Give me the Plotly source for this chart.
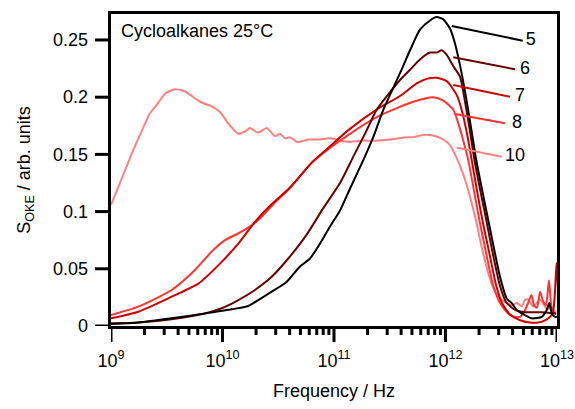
import plotly.graph_objects as go

# log10(frequency / Hz) and S_OKE values
logf_5 = [9.000, 9.245, 9.544, 9.843, 10.083, 10.231, 10.321, 10.441, 10.561, 10.605, 10.695, 10.785,
          10.874, 10.964, 11.054, 11.143, 11.263, 11.352, 11.442, 11.592, 11.682, 11.771, 11.861, 11.921,
          11.980, 12.040, 12.085, 12.130, 12.184, 12.238, 12.274, 12.318, 12.372, 12.426, 12.489, 12.549,
          12.594, 12.639, 12.684, 12.773, 12.863, 12.908, 12.931, 12.953, 12.982, 13.000]
s_5 = [0.0017, 0.003, 0.0067, 0.011, 0.0146, 0.0175, 0.0227, 0.030, 0.0373, 0.0417, 0.052, 0.059,
       0.072, 0.087, 0.101, 0.120, 0.145, 0.165, 0.189, 0.221, 0.241, 0.259, 0.267, 0.270,
       0.268, 0.260, 0.247, 0.228, 0.200, 0.168, 0.146, 0.124, 0.098, 0.072, 0.043, 0.024,
       0.020, 0.014, 0.011, 0.0067, 0.008, 0.014, 0.020, 0.011, 0.008, 0.008]

logf_6 = [9.000, 9.245, 9.544, 9.843, 9.993, 10.142, 10.291, 10.441, 10.590, 10.749, 10.904, 11.054,
          11.173, 11.293, 11.383, 11.592, 11.682, 11.771, 11.861, 11.921, 11.966, 12.011, 12.070, 12.130,
          12.175, 12.220, 12.258, 12.309, 12.363, 12.429, 12.489, 12.543, 12.623, 12.713, 12.848, 12.991]
s_6 = [0.0023, 0.003, 0.006, 0.011, 0.0155, 0.0227, 0.0315, 0.043, 0.059, 0.079, 0.103, 0.125,
       0.148, 0.171, 0.189, 0.215, 0.224, 0.233, 0.239, 0.239, 0.241, 0.237, 0.227, 0.218,
       0.196, 0.170, 0.146, 0.120, 0.094, 0.061, 0.035, 0.021, 0.014, 0.012, 0.012, 0.011]

logf_7 = [9.000, 9.245, 9.544, 9.783, 9.962, 10.142, 10.291, 10.435, 10.605, 10.803, 10.964, 11.126,
          11.395, 11.592, 11.742, 11.831, 11.921, 12.011, 12.100, 12.148, 12.193, 12.235, 12.283, 12.336,
          12.399, 12.453, 12.507, 12.578, 12.668, 12.758, 12.830, 12.892, 12.937, 12.964, 12.982, 12.996,
          13.010]
s_7 = [0.0067, 0.0125, 0.0256, 0.037, 0.053, 0.072, 0.091, 0.106, 0.121, 0.143, 0.157, 0.171,
       0.190, 0.201, 0.212, 0.216, 0.217, 0.214, 0.202, 0.188, 0.168, 0.145, 0.118, 0.090,
       0.061, 0.036, 0.020, 0.010, 0.005, 0.003, 0.003, 0.005, 0.008, 0.012, 0.030, 0.055,
       0.030]

logf_8 = [9.000, 9.245, 9.544, 9.753, 9.903, 10.022, 10.142, 10.262, 10.352, 10.471, 10.590, 10.814,
          11.114, 11.413, 11.711, 11.891, 11.980, 12.070, 12.112, 12.148, 12.204, 12.256, 12.309, 12.370,
          12.426, 12.489, 12.561, 12.623, 12.668, 12.704, 12.740, 12.771, 12.794, 12.821, 12.848, 12.874,
          12.901, 12.928, 12.946, 12.964, 12.991]
s_8 = [0.0096, 0.0169, 0.0315, 0.049, 0.065, 0.075, 0.081, 0.088, 0.0955, 0.108, 0.119, 0.144,
       0.166, 0.184, 0.196, 0.200, 0.197, 0.189, 0.178, 0.166, 0.145, 0.118, 0.090, 0.061,
       0.036, 0.020, 0.011, 0.008, 0.008, 0.012, 0.020, 0.027, 0.018, 0.016, 0.030, 0.022,
       0.018, 0.040, 0.020, 0.013, 0.010]

logf_10 = [9.000, 9.060, 9.179, 9.260, 9.350, 9.424, 9.484, 9.574, 9.664, 9.798, 9.903, 9.978,
           10.052, 10.142, 10.202, 10.247, 10.318, 10.396, 10.471, 10.516, 10.561, 10.605, 10.665, 10.695,
           10.770, 10.874, 10.964, 11.114, 11.233, 11.368, 11.502, 11.652, 11.711, 11.801, 11.906, 11.980,
           12.040, 12.085, 12.130, 12.175, 12.220, 12.274, 12.327, 12.381, 12.435, 12.489, 12.549, 12.594,
           12.639, 12.684, 12.713, 12.743, 12.787, 12.848, 12.908, 12.946, 12.991]
s_10 = [0.106, 0.120, 0.149, 0.167, 0.186, 0.195, 0.203, 0.207, 0.205, 0.196, 0.192, 0.187,
        0.177, 0.168, 0.170, 0.173, 0.169, 0.173, 0.166, 0.168, 0.164, 0.165, 0.161, 0.161,
        0.163, 0.163, 0.164, 0.161, 0.162, 0.162, 0.163, 0.165, 0.165, 0.167, 0.166, 0.163,
        0.158, 0.150, 0.140, 0.128, 0.113, 0.092, 0.068, 0.047, 0.032, 0.024, 0.020, 0.018,
        0.020, 0.017, 0.023, 0.023, 0.017, 0.023, 0.015, 0.016, 0.011]

labels = ["5", "6", "7", "8", "10"]
colors = ["#000000", "#660000", "#CC0000", "#FF3333", "#FF8080"]
series = [(logf_5, s_5), (logf_6, s_6), (logf_7, s_7), (logf_8, s_8), (logf_10, s_10)]

# leader lines: (log10 f start, S start, log10 f end, S end, log10 f label)
leader_logf0 = [12.056, 12.070, 12.070, 12.085, 12.100]
leader_s0 = [0.2622, 0.2349, 0.2107, 0.1853, 0.1559]
leader_logf1 = [12.692, 12.623, 12.578, 12.534, 12.504]
leader_s1 = [0.2494, 0.2244, 0.2004, 0.1772, 0.1480]
label_logf = [12.764, 12.713, 12.668, 12.641, 12.623]

x_major_exp = [9, 10, 11, 12, 13]
x_minor_mult = [2, 3, 4, 5, 6, 7, 8, 9]
y_tickvals = [0, 0.05, 0.1, 0.15, 0.2, 0.25]
y_ticktext = ["0", "0.05", "0.1", "0.15", "0.2", "0.25"]

FONT = "Liberation Sans, Arial, sans-serif"
W, H = 575, 409
ML, MR, MT, MB = 95, 18, 14, 67
STRIP = 16                      # px strip that carries the tick marks
AW, AH = W - ML - MR, H - MT - MB
DX, DY = STRIP / AW, STRIP / AH
X_RANGE = [9, 13]
Y_RANGE = [0, 0.2727]
MAJOR_LEN, MINOR_LEN, LW = 16, 9, 3

fig = go.Figure()
for (lf, s), c, lab in zip(series[::-1], colors[::-1], labels[::-1]):
    fig.add_trace(go.Scatter(x=[10 ** v for v in lf], y=s, mode="lines",
                             line=dict(color=c, width=2, shape="spline", smoothing=0.6),
                             name=lab, showlegend=False, hoverinfo="skip"))

for i, c in enumerate(colors):
    fig.add_trace(go.Scatter(x=[10 ** leader_logf0[i], 10 ** leader_logf1[i]],
                             y=[leader_s0[i], leader_s1[i]], mode="lines",
                             line=dict(color=c, width=2), showlegend=False, hoverinfo="skip"))
    fig.add_trace(go.Scatter(x=[10 ** label_logf[i]], y=[leader_s1[i]], mode="text",
                             text=[labels[i]], textposition="middle center",
                             textfont=dict(family=FONT, size=18, color="black"),
                             showlegend=False, hoverinfo="skip", cliponaxis=False))

major_vals = [10 ** e for e in x_major_exp]
minor_vals = [m * 10 ** e for e in x_major_exp[:-1] for m in x_minor_mult]

# tick marks drawn inside thin strip subplots that share the main axes' scales
tx, ty = [], []
for v, ln in [(v, MAJOR_LEN) for v in major_vals] + [(v, MINOR_LEN) for v in minor_vals]:
    tx += [v, v, None]
    ty += [STRIP, STRIP - ln, None]
fig.add_trace(go.Scatter(x=tx, y=ty, mode="lines", xaxis="x2", yaxis="y2",
                         line=dict(color="black", width=LW), showlegend=False, hoverinfo="skip"))
yx, yy = [], []
for v in y_tickvals:
    yx += [STRIP, STRIP - MAJOR_LEN, None]
    yy += [v, v, None]
fig.add_trace(go.Scatter(x=yx, y=yy, mode="lines", xaxis="x3", yaxis="y3",
                         line=dict(color="black", width=LW), showlegend=False, hoverinfo="skip"))

fig.add_annotation(text="Cycloalkanes 25°C", xref="x domain", yref="y domain", x=0.018, y=0.945,
                   xanchor="left", yanchor="middle", showarrow=False,
                   font=dict(family=FONT, size=18, color="black"))

hidden = dict(showline=False, showgrid=False, zeroline=False, ticks="", showticklabels=False)

fig.update_layout(
    template="none",
    width=W, height=H,
    margin=dict(l=ML, r=MR, t=MT, b=MB, autoexpand=False),
    paper_bgcolor="white", plot_bgcolor="white",
    font=dict(family=FONT, size=18, color="black"),
    xaxis=dict(
        domain=[DX, 1], anchor="y",
        type="log", range=X_RANGE, automargin=False,
        showline=True, linecolor="black", linewidth=LW, mirror=True,
        ticks="", showticklabels=False, showgrid=False, zeroline=False,
    ),
    yaxis=dict(
        domain=[DY, 1], anchor="x",
        range=Y_RANGE, automargin=False,
        showline=True, linecolor="black", linewidth=LW, mirror=True,
        ticks="", showticklabels=False, showgrid=False, zeroline=False,
    ),
    # bottom strip: carries x tick marks, labels and title
    xaxis2=dict(
        domain=[DX, 1], anchor="y2",
        type="log", range=X_RANGE, automargin=False,
        tickmode="array", tickvals=major_vals,
        ticktext=["10<sup>%d</sup>" % e for e in x_major_exp],
        showline=False, showgrid=False, zeroline=False, ticks="",
        ticklabelstandoff=6,
        title=dict(text="Frequency / Hz", font=dict(family=FONT, size=18), standoff=14),
        tickfont=dict(family=FONT, size=18, color="black"),
    ),
    yaxis2=dict(domain=[0, DY], anchor="x2", range=[0, STRIP], automargin=False, **hidden),
    # left strip: carries y tick marks, labels and title
    xaxis3=dict(domain=[0, DX], anchor="y3", range=[0, STRIP], automargin=False, **hidden),
    yaxis3=dict(
        domain=[DY, 1], anchor="x3",
        range=Y_RANGE, automargin=False,
        tickmode="array", tickvals=y_tickvals, ticktext=y_ticktext,
        showline=False, showgrid=False, zeroline=False, ticks="",
        ticklabelstandoff=6,
        title=dict(text="S<sub>OKE</sub> / arb. units", font=dict(family=FONT, size=18), standoff=17),
        tickfont=dict(family=FONT, size=18, color="black"),
    ),
)

fig.write_html("out.html")
